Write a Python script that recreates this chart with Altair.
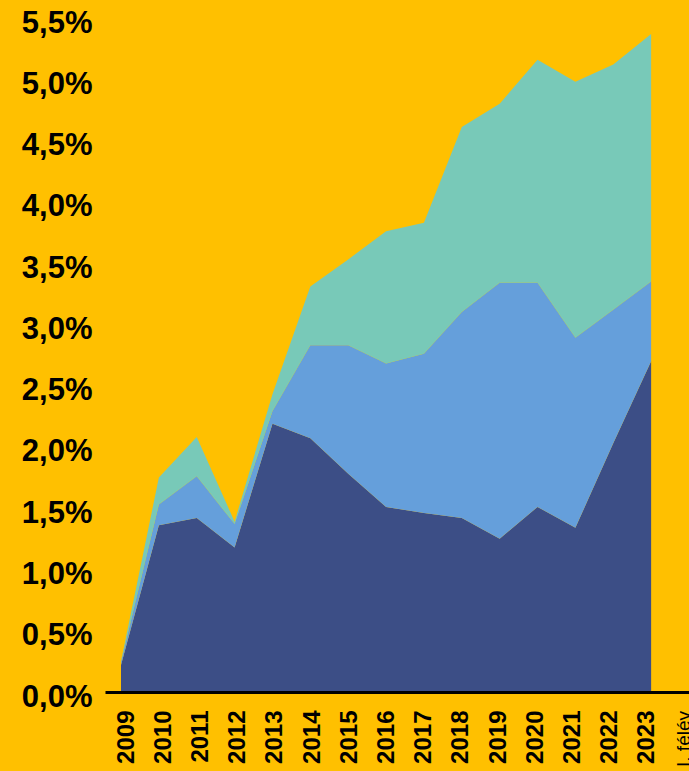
import altair as alt
import pandas as pd
import jinja2

# ---- data (percent) ----
years = ["2009", "2010", "2011", "2012", "2013", "2014", "2015", "2016",
         "2017", "2018", "2019", "2020", "2021", "2022", "2023"]
extra_label = "I. félév"
axis_labels = years + [extra_label]

series_names = ["Sorozat 1", "Sorozat 2", "Sorozat 3"]
dark = [0.22, 1.36, 1.42, 1.18, 2.19, 2.07, 1.78, 1.51, 1.46, 1.42, 1.25, 1.51, 1.34, 2.03, 2.70]
blue = [0.025, 0.17, 0.34, 0.19, 0.10, 0.76, 1.05, 1.17, 1.30, 1.68, 2.09, 1.83, 1.55, 1.09, 0.65]
teal = [0.005, 0.22, 0.32, 0.02, 0.14, 0.48, 0.70, 1.08, 1.07, 1.51, 1.46, 1.82, 2.09, 2.00, 2.02]
colors = ["#3C4E86", "#659FDB", "#78C9B8"]
y_ticks = [0, 0.5, 1, 1.5, 2, 2.5, 3, 3.5, 4, 4.5, 5, 5.5]

rows = []
for i, yr in enumerate(years):
    for rank, (name, vals) in enumerate(zip(series_names, [dark, blue, teal])):
        rows.append({"i": i, "year": yr, "series": name, "rank": rank, "value": vals[i]})
df = pd.DataFrame(rows)

lab_df = pd.DataFrame({"i": list(range(len(years))), "label": years})
extra_df = pd.DataFrame({"i": [len(years)], "label": [extra_label]})
label_array = "[" + ",".join("'" + s + "'" for s in years) + "]"

FONT = "Liberation Sans"
BG = "#FFC000"
PLOT_H = 674


def make_chart(pad_left, pad_top, pad_bottom, width, area_max, label_max):
    label_scale = alt.Scale(domain=[-0.567, label_max], nice=False, zero=False)

    area = alt.Chart(df).mark_area(interpolate="linear").encode(
        x=alt.X("i:Q", scale=alt.Scale(domain=[-0.4226, area_max], nice=False, zero=False), axis=None),
        y=alt.Y(
            "value:Q",
            stack="zero",
            scale=alt.Scale(domain=[0, 5.5], nice=False),
            axis=alt.Axis(
                values=y_ticks,
                labelExpr="replace(format(datum.value, '.1f'), '.', ',') + '%'",
                title=None, grid=False, domain=False, ticks=False,
                labelFont=FONT, labelFontSize=31, labelFontWeight="bold", labelColor="#000000",
                labelPadding=13, labelOffset=5, labelFlush=False, labelOverlap=False,
            ),
        ),
        color=alt.Color("series:N", scale=alt.Scale(domain=series_names, range=colors), legend=None),
        order=alt.Order("rank:Q"),
    )

    labels_layer = alt.Chart(lab_df).mark_point(opacity=0).encode(
        x=alt.X(
            "i:Q",
            scale=label_scale,
            axis=alt.Axis(
                orient="bottom",
                values=list(range(len(years))),
                labelExpr=label_array + "[datum.value]",
                title=None, grid=False, ticks=False,
                domain=True, domainColor="#000000", domainWidth=3,
                labelAngle=270, labelAlign="right", labelBaseline="middle",
                labelFont=FONT, labelColor="#000000", labelFontSize=24, labelFontWeight="bold",
                labelPadding=18, labelFlush=False, labelOverlap=False, labelBound=False,
                zindex=1,
            ),
        ),
        y=alt.value(0),
    )

    extra_text = alt.Chart(extra_df).mark_text(
        angle=270, align="right", baseline="middle",
        font=FONT, fontSize=19, fontWeight="normal", color="#000000",
    ).encode(
        x=alt.X("i:Q", scale=label_scale, axis=None),
        y=alt.value(PLOT_H + 19),
        text="label:N",
    )

    return (
        alt.layer(area, labels_layer, extra_text)
        .resolve_scale(x="independent")
        .properties(
            width=width,
            height=PLOT_H,
            background=BG,
            autosize=alt.AutoSizeParams(type="none"),
            padding={"left": pad_left, "top": pad_top, "right": 0, "bottom": pad_bottom},
        )
        .configure_view(stroke=None, clip=False)
    )


TEMPLATE = jinja2.Template("""<!DOCTYPE html>
<html>
<head>
  <style>
    html, body { margin: 0; padding: 0; background: #FFC000; overflow: hidden; }
    #{{ output_div }}.vega-embed {
      width: 100%;
      display: flex;
    }
    #{{ output_div }}.vega-embed details,
    #{{ output_div }}.vega-embed details summary {
      position: relative;
    }
  </style>
  <script type="text/javascript" src="{{ base_url }}/vega@{{ vega_version }}"></script>
  <script type="text/javascript" src="{{ base_url }}/vega-lite@{{ vegalite_version }}"></script>
  <script type="text/javascript" src="{{ base_url }}/vega-embed@{{ vegaembed_version }}"></script>
</head>
<body>
  <div id="{{ output_div }}"></div>
  <script>
    (function(vegaEmbed) {
      var spec = {{ spec }};
      var embedOpt = {{ embed_options }};
      function showError(el, error){
          el.innerHTML = ('<div style="color:red;"><p>JavaScript Error: ' + error.message + '</p></div>');
          throw error;
      }
      const el = document.getElementById('{{ output_div }}');
      vegaEmbed("#{{ output_div }}", spec, embedOpt)
        .catch(error => showError(el, error));
    })(vegaEmbed);
  </script>
</body>
</html>
""")

chart = make_chart(105, 18, 79, 584, 15.0, 15.13)
try:
    chart.save("out.html", embed_options={"renderer": "svg", "actions": False}, template=TEMPLATE)
except Exception:
    chart = make_chart(97, 10, 71, 576, 14.79, 14.92)
    chart.save("out.html", embed_options={"renderer": "svg", "actions": False})
